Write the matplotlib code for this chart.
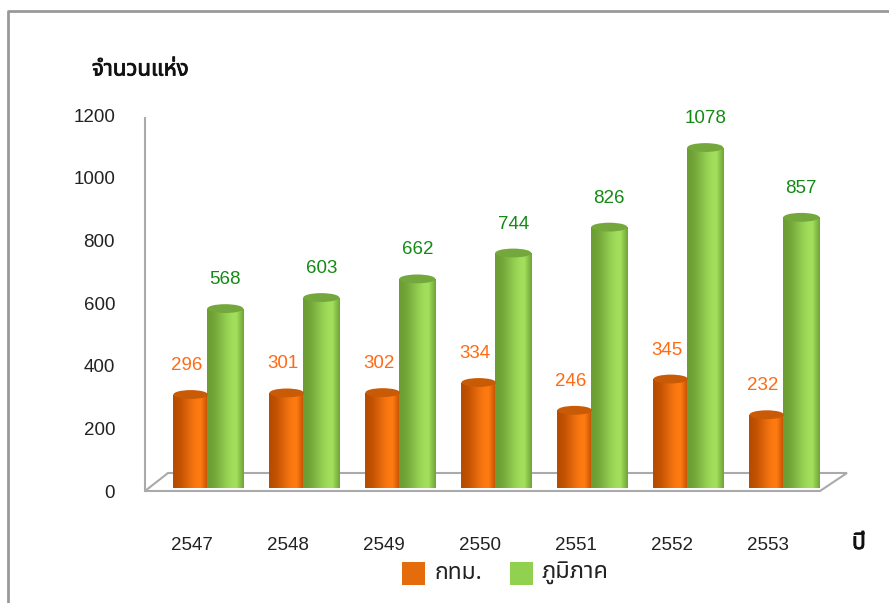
import numpy as np
import matplotlib
matplotlib.use('Agg')
import matplotlib.pyplot as plt
from matplotlib.patches import Ellipse, Polygon, Rectangle
from matplotlib.lines import Line2D
import matplotlib.transforms as mtrans
import matplotlib.patheffects as pe

years = ['2547', '2548', '2549', '2550', '2551', '2552', '2553']
bkk = [296, 301, 302, 334, 246, 345, 232]
region = [568, 603, 662, 744, 826, 1078, 857]
yticks = [0, 200, 400, 600, 800, 1000, 1200]

W, H = 889, 603
fig = plt.figure(figsize=(W / 100, H / 100), dpi=100)
# bars stand on the floor, slightly above the "0" label (3D offset)
ax = fig.add_axes([147 / W, 115 / H, 700 / W, 379 / H])
ax.set_xlim(-0.635, 6.656)
ax.set_ylim(0, 1200)
ax.axis('off')

num_font = ['Liberation Sans', 'DejaVu Sans']
thai_font = ['Noto Sans Thai', 'Loma', 'DejaVu Sans']
bold = [pe.withStroke(linewidth=0.6, foreground='#111111')]


def cylinder(x, h, w, c_dark, c_light, c_top):
    # bar body with a horizontal shading, round bottom and flat elliptic top
    r = ax.bar(x, h, w, color='none', edgecolor='none')[0]
    t = np.linspace(0, 1, 64)
    shade = 0.5 - 0.5 * np.cos(np.clip(t * 1.25, 0, 1) * np.pi)
    shade = np.where(t > 0.8, 1 - (t - 0.8) / 0.2 * 0.9, shade)
    d = np.array(matplotlib.colors.to_rgb(c_dark))
    l = np.array(matplotlib.colors.to_rgb(c_light))
    img = (d[None, :] + (l - d)[None, :] * shade[:, None])[None, :, :]
    eh = 28
    bot = Ellipse((x, 0), w, eh, facecolor='none', edgecolor='none')
    ax.add_patch(bot)
    for clip in (r, bot):
        im = ax.imshow(img, extent=(x - w / 2, x + w / 2, -eh / 2, h), aspect='auto', zorder=2)
        im.set_clip_path(clip)
    ax.add_patch(Ellipse((x, h), w, eh, facecolor=c_top, edgecolor='none', zorder=3))


# floor and side wall (pixel positions, top-left origin)
def px(x, y):
    return (x / W, 1 - y / H)

floor = Polygon([px(145, 491), px(820, 491), px(847, 473), px(168, 473)], closed=True,
                transform=fig.transFigure, facecolor='white', edgecolor='#aaaaaa', lw=1.5,
                zorder=-1)
fig.patches.append(floor)
fig.lines.append(Line2D([145 / W, 145 / W], [1 - 118 / H, 1 - 491 / H],
                        transform=fig.transFigure, color='#aaaaaa', lw=1.5, zorder=-1))
# outer frame
fig.lines.append(Line2D([8 / W, 8 / W, 1], [0, 1 - 11 / H, 1 - 11 / H],
                        transform=fig.transFigure, color='#999999', lw=2))

xlab_trans = mtrans.blended_transform_factory(ax.transData, fig.transFigure)
for i in range(len(years)):
    cylinder(i - 0.18, bkk[i], 0.36, '#b84c00', '#ff7b12', '#c95a06')
    cylinder(i + 0.18, region[i], 0.375, '#6c9e34', '#a2e05c', '#74a83c')
    ax.annotate(str(bkk[i]), (i - 0.22, bkk[i]), xytext=(0, 29), textcoords='offset pixels',
                ha='center', va='center', color='#ff6a13', fontsize=13.5, family=num_font)
    ax.annotate(str(region[i]), (i + 0.18, region[i]), xytext=(0, 29), textcoords='offset pixels',
                ha='center', va='center', color='#148a14', fontsize=13.5, family=num_font)
    ax.text(i - 0.17, 1 - 546 / H, years[i], transform=xlab_trans,
            ha='center', va='center', fontsize=13.5, color='#222222', family=num_font)

# value axis labels sit on the front plane of the 3D box
for v in yticks:
    fig.text(115 / W, 1 - (493 - v * 376 / 1200) / H, str(v),
             ha='right', va='center', fontsize=13.5, color='#222222', family=num_font)

fig.text(92 / W, 1 - 70 / H, 'จำนวนแห่ง', fontsize=16, va='center', color='#111111',
         family=thai_font, path_effects=bold)
fig.text(852 / W, 1 - 543 / H, 'ปี', fontsize=16.5, va='center', color='#111111',
         family=thai_font, path_effects=bold)

# legend
fig.patches.append(Rectangle(px(402, 585), 23 / W, 23 / H, transform=fig.transFigure,
                             facecolor='#e46c0a', edgecolor='none'))
fig.patches.append(Rectangle(px(510, 585), 23 / W, 23 / H, transform=fig.transFigure,
                             facecolor='#92d050', edgecolor='none'))
fig.text(434 / W, 1 - 573 / H, 'กทม.', fontsize=16.5, va='center', color='#222222', family=thai_font)
fig.text(542 / W, 1 - 573 / H, 'ภูมิภาค', fontsize=17, va='center', color='#222222', family=thai_font)

fig.savefig('out.png', dpi=100)
